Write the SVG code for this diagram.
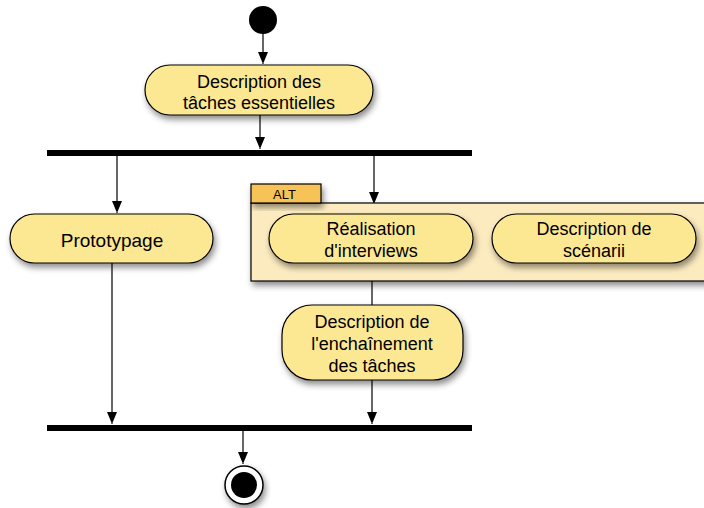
<svg xmlns="http://www.w3.org/2000/svg" width="704" height="508" viewBox="0 0 704 508">
<defs>
<filter id="sh" x="-20%" y="-20%" width="140%" height="160%">
<feDropShadow dx="2" dy="4" stdDeviation="3" flood-color="#000" flood-opacity="0.45"/>
</filter>
<marker id="arr" markerWidth="10" markerHeight="14" refX="12" refY="5" orient="auto" markerUnits="userSpaceOnUse">
<path d="M0,0 L12,5 L0,10 Z" fill="#000"/>
</marker>
</defs>
<style>
.act{fill:#fce892;stroke:#000;stroke-width:1.2;filter:url(#sh)}
.t{font-family:"Liberation Sans",Arial,sans-serif;font-size:18px;fill:#000;text-anchor:middle}
.c{stroke:#000;stroke-width:1.2;fill:none}
.bar{fill:#000}
</style>
<rect width="704" height="508" fill="#fff"/>
<g id="connectors">
<line class="c" x1="263" y1="34" x2="263" y2="64" marker-end="url(#arr)"/>
<line class="c" x1="260" y1="115" x2="260" y2="149" marker-end="url(#arr)"/>
<line class="c" x1="117" y1="156" x2="117" y2="213" marker-end="url(#arr)"/>
<line class="c" x1="374" y1="156" x2="374" y2="204" marker-end="url(#arr)"/>
<line class="c" x1="112" y1="263" x2="112" y2="424" marker-end="url(#arr)"/>
<line class="c" x1="372" y1="281" x2="372" y2="305"/>
<line class="c" x1="372" y1="380" x2="372" y2="424" marker-end="url(#arr)"/>
<line class="c" x1="243" y1="431" x2="243" y2="464" marker-end="url(#arr)"/>
</g>
<g id="start">
<circle cx="263" cy="20" r="14" fill="#000"/>
</g>
<g id="n1">
<rect class="act" x="145" y="65" width="228" height="50" rx="25"/>
<text class="t" x="259" y="88">Description des</text>
<text class="t" x="259" y="109">tâches essentielles</text>
</g>
<g id="fork">
<rect class="bar" x="47" y="150" width="425" height="6"/>
</g>
<g id="proto">
<rect class="act" x="10" y="214" width="203" height="49" rx="24.5"/>
<text class="t" x="112" y="247" style="font-size:19px">Prototypage</text>
</g>
<g id="alt">
<rect x="251" y="203" width="460" height="78" fill="#fdebc0" stroke="#000" stroke-width="1.2" filter="url(#sh)"/>
<rect x="251" y="184" width="70" height="19" fill="#f7c356" stroke="#000" stroke-width="1.2" filter="url(#sh)"/>
<text x="273" y="199" font-family="'Liberation Sans',Arial,sans-serif" font-size="13" fill="#000">ALT</text>
</g>
<g id="interviews">
<rect class="act" x="269" y="214" width="204" height="49" rx="24.5"/>
<text class="t" x="371" y="235">Réalisation</text>
<text class="t" x="371" y="257">d'interviews</text>
</g>
<g id="scenarii">
<rect class="act" x="492" y="214" width="204" height="49" rx="24.5"/>
<text class="t" x="594" y="235">Description de</text>
<text class="t" x="594" y="257">scénarii</text>
</g>
<g id="enchainement">
<rect class="act" x="282" y="305" width="181" height="75" rx="30"/>
<text class="t" x="372" y="328">Description de</text>
<text class="t" x="372" y="350">l'enchaînement</text>
<text class="t" x="372" y="372">des tâches</text>
</g>
<g id="join">
<rect class="bar" x="47" y="425" width="425" height="6"/>
</g>
<g id="end">
<circle cx="244" cy="485" r="19" fill="#fff" stroke="#000" stroke-width="1.5" filter="url(#sh)"/>
<circle cx="244" cy="485" r="13" fill="#000"/>
</g>
</svg>
